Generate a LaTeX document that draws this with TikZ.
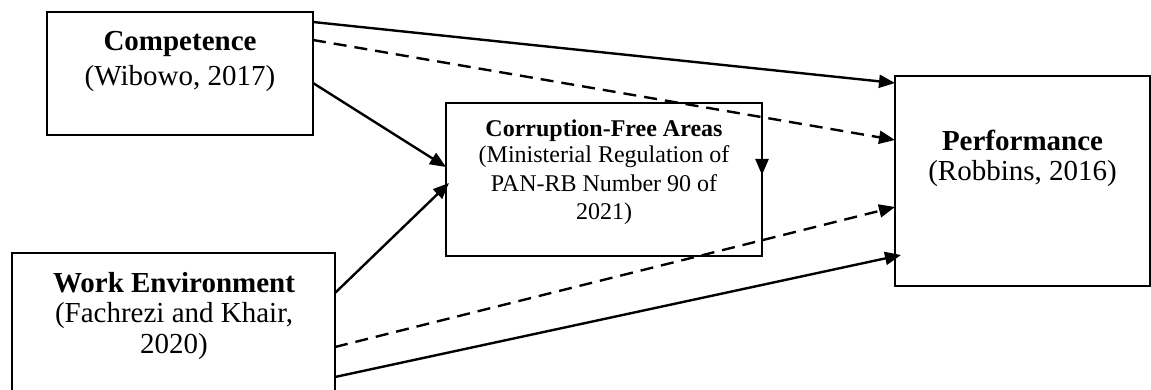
\documentclass[tikz,border=0pt]{standalone}
\usepackage{fontspec}
\setmainfont{Liberation Serif}
\usetikzlibrary{arrows.meta}
\tikzset{
  box/.style={draw, line width=2.2pt, inner sep=0pt, outer sep=0pt},
  bigtitle/.style={font=\fontsize{29}{34}\selectfont\bfseries, anchor=base, inner sep=0pt},
  bigcite/.style={font=\fontsize{29}{34}\selectfont, anchor=base, inner sep=0pt},
  smalltitle/.style={font=\fontsize{24}{28}\selectfont\bfseries, anchor=base, inner sep=0pt},
  smallcite/.style={font=\fontsize{24}{28}\selectfont, anchor=base, inner sep=0pt},
  link/.style={line width=2.4pt, -{Triangle[length=16pt,width=13pt]}},
  dashlink/.style={link, dash pattern=on 13pt off 8pt},
}
\begin{document}
\begin{tikzpicture}[x=1pt,y=-1pt]
\useasboundingbox (0,0) rectangle (1151,390);

% boxes
\node[box, minimum width=266pt, minimum height=123pt] (comp) at (180,73.5) {};
\node[box, minimum width=316pt, minimum height=153pt] (corr) at (604,179.5) {};
\node[box, minimum width=255pt, minimum height=210pt] (perf) at (1022.5,181) {};
\node[box, minimum width=323pt, minimum height=147pt] (work) at (173.5,326.5) {};

% box texts
\node[bigtitle] (compT) at (180,51) {Competence};
\node[bigcite]  (compC) at (180,86) {(Wibowo, 2017)};

\node[smalltitle] (corrT)  at (604,137) {Corruption-Free Areas};
\node[smallcite]  (corrC1) at (604,163) {(Ministerial Regulation of};
\node[smallcite]  (corrC2) at (604,192) {PAN-RB Number 90 of};
\node[smallcite]  (corrC3) at (604,220) {2021)};

\node[bigtitle] (perfT) at (1022.5,151) {Performance};
\node[bigcite]  (perfC) at (1022.5,181) {(Robbins, 2016)};

\node[bigtitle] (workT)  at (174,292) {Work Environment};
\node[bigcite]  (workC1) at (174,322) {(Fachrezi and Khair,};
\node[bigcite]  (workC2) at (174,353) {2020)};

% connectors
\draw[link]     ([yshift=-10pt]comp.north east) -- ([yshift=-7pt]perf.north west);
\draw[dashlink] ([yshift=-28pt]comp.north east) -- ([yshift=-64pt]perf.north west);
\draw[link]     ([yshift=-71pt]comp.north east) -- ([yshift=-64pt]corr.north west);
\draw[link]     ([yshift=-40pt]work.north east) -- ([xshift=3pt,yshift=-80pt]corr.north west);
\draw[dashlink] ([yshift=-94pt]work.north east) -- ([yshift=-131pt]perf.north west);
\draw[link]     ([yshift=-124pt]work.north east) -- ([xshift=6pt,yshift=-179pt]perf.north west);
\draw[link]     ([yshift=-16pt]corr.north east) -- ([yshift=-72pt]corr.north east);
\end{tikzpicture}
\end{document}
